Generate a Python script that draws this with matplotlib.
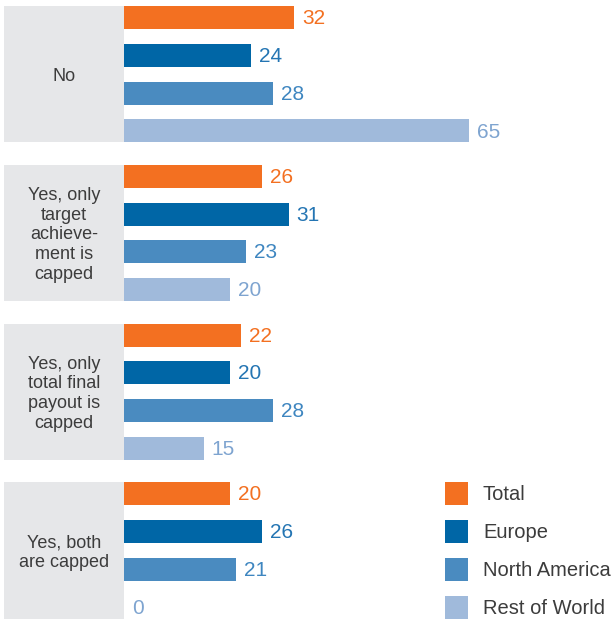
import matplotlib
matplotlib.use("Agg")
import matplotlib.pyplot as plt
from matplotlib.patches import Rectangle

categories = ["No", "Yes, only\ntarget\nachieve-\nment is\ncapped",
              "Yes, only\ntotal final\npayout is\ncapped", "Yes, both\nare capped"]
series = ["Total", "Europe", "North America", "Rest of World"]
total = [32, 26, 22, 20]
europe = [24, 31, 20, 26]
north_america = [28, 23, 28, 21]
rest_of_world = [65, 20, 15, 0]
values = [total, europe, north_america, rest_of_world]

bar_colors = ["#F37021", "#0066A6", "#4A8BC0", "#A0BADB"]
label_colors = ["#F37021", "#2475B3", "#3E86C0", "#7EA4D0"]

plt.rcParams["font.family"] = ["Liberation Sans", "DejaVu Sans"]

W, H = 615, 619
fig = plt.figure(figsize=(W / 100, H / 100), dpi=100)
ax = fig.add_axes([0, 0, 1, 1])

px_per_unit = 5.31       # horizontal pixels per value unit
slot = 37.8              # vertical pixels per bar slot
group_pitch = 4.2        # slots between group starts
bar_h = 23 / slot

x0 = -124 / px_per_unit
ax.set_xlim(x0, x0 + W / px_per_unit)
y_top = -17.5 / slot
ax.set_ylim(y_top + H / slot, y_top)
ax.axis("off")

text_color = "#3C3C3C"

for g, cat in enumerate(categories):
    base = g * group_pitch
    top = base - bar_h / 2
    bottom = base + 3 + bar_h / 2
    if g == len(categories) - 1:
        bottom = y_top + H / slot
    ax.add_patch(Rectangle((x0 + 4 / px_per_unit, top), -x0 - 4 / px_per_unit,
                           bottom - top, facecolor="#E6E7E9", edgecolor="none", zorder=0))
    ax.text(x0 + 64 / px_per_unit, base + 1.55, cat, ha="center", va="center",
            fontsize=13, color=text_color, linespacing=1.2)
    for s in range(len(series)):
        v = values[s][g]
        y = base + s
        ax.barh(y, v, height=bar_h, left=0, color=bar_colors[s], zorder=2)
        ax.text(v + 8 / px_per_unit, y + 0.03, f"{v}", ha="left", va="center",
                fontsize=15, color=label_colors[s])

# legend beside the last group
lx = (445 - 124) / px_per_unit
lw = 23 / px_per_unit
base = (len(categories) - 1) * group_pitch
for s, name in enumerate(series):
    y = base + s
    ax.add_patch(Rectangle((lx, y - bar_h / 2), lw, bar_h, facecolor=bar_colors[s],
                           edgecolor="none"))
    ax.text((483 - 124) / px_per_unit, y + 0.03, name, ha="left", va="center",
            fontsize=14.5, color=text_color)

fig.savefig("out.png", dpi=100)
